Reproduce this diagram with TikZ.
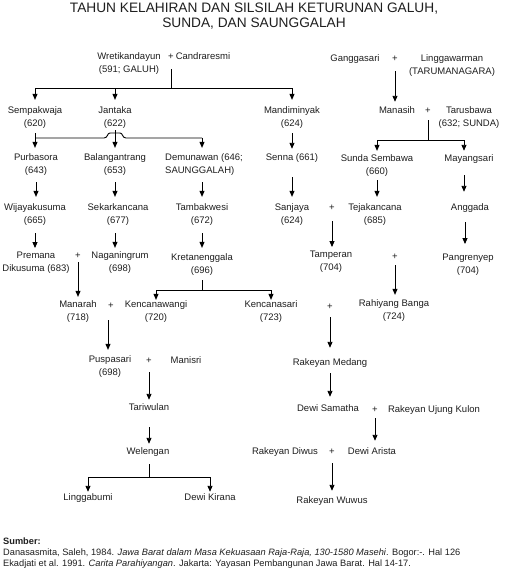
\documentclass[tikz,border=0pt]{standalone}
\usepackage{fontspec}
\setmainfont{Liberation Sans}
\usetikzlibrary{arrows.meta,calc}
\newcommand\vlink[4]{\draw[arr, shorten <=#3pt, shorten >=#4pt] (#1) -- (#1 |- #2.north);}
\begin{document}
\begin{tikzpicture}[x=1pt,y=-1pt,
  every node/.style={inner sep=0pt, font=\fontsize{9.5}{13}\selectfont, text=black!88},
  two/.style={align=center},
  one/.style={text height=7pt, text depth=2pt},
  ttl/.style={align=center, font=\fontsize{13.7}{15}\selectfont},
  foot/.style={anchor=west, text height=7pt, text depth=2pt, font=\fontsize{9.25}{11}\selectfont},
  ln/.style={line width=0.9pt, black},
  arr/.style={ln, -{Triangle[length=6pt,width=5pt]}}]
\useasboundingbox (0,0) rectangle (510,573);
\fill[white] (0,0) rectangle (510,573);

\node[ttl] (title) at (254,16) {TAHUN KELAHIRAN DAN SILSILAH KETURUNAN GALUH,\\SUNDA, DAN SAUNGGALAH};

% left family
\node[two] (wret) at (129,64) {Wretikandayun\\(591; GALUH)};
\node[one] (p0) at (171,57) {+};
\node[one] (candra) at (203,57) {Candraresmi};
\node[two] (sempak) at (35,117.5) {Sempakwaja\\(620)};
\node[two] (jantaka) at (115,117.5) {Jantaka\\(622)};
\node[two] (mandim) at (292,117.5) {Mandiminyak\\(624)};
\node[two] (purba) at (36,165) {Purbasora\\(643)};
\node[two] (balang) at (115,165) {Balangantrang\\(653)};
\node[two, align=left, anchor=west] (demu) at (165,165) {Demunawan (646;\\SAUNGGALAH)};
\node[one] (senna) at (292,158) {Senna (661)};
\node[two] (wijaya) at (35,215) {Wijayakusuma\\(665)};
\node[two] (sekar) at (118,215) {Sekarkancana\\(677)};
\node[two] (tambak) at (202,215) {Tambakwesi\\(672)};
\node[two] (sanjaya) at (292,215) {Sanjaya\\(624)};
\node[two] (premana) at (36,262.5) {Premana\\Dikusuma (683)};
\node[one] (p1) at (78,256) {+};
\node[two] (naga) at (120,262.5) {Naganingrum\\(698)};
\node[two] (kreta) at (202,264.5) {Kretanenggala\\(696)};
\node[two] (manarah) at (78,311.5) {Manarah\\(718)};
\node[one] (p2) at (111,306) {+};
\node[two] (kenwangi) at (156,312) {Kencanawangi\\(720)};
\node[two] (kensari) at (271,312) {Kencanasari\\(723)};
\node[two] (puspa) at (110,367) {Puspasari\\(698)};
\node[one] (p3) at (149,361) {+};
\node[one] (manisri) at (186,361) {Manisri};
\node[one] (tari) at (149,408) {Tariwulan};
\node[one] (welengan) at (148,452) {Welengan};
\node[one] (lingga) at (88,498) {Linggabumi};
\node[one] (kirana) at (210,498) {Dewi Kirana};

% right family
\node[one] (gangga) at (355,59) {Ganggasari};
\node[one] (p4) at (395,59) {+};
\node[two] (linggaw) at (452,66) {Linggawarman\\(TARUMANAGARA)};
\node[one] (manasih) at (397,111) {Manasih};
\node[one] (p5) at (428,111) {+};
\node[two] (tarus) at (469,117.5) {Tarusbawa\\(632; SUNDA)};
\node[two] (sundas) at (377,165.5) {Sunda Sembawa\\(660)};
\node[one] (mayang) at (469,159) {Mayangsari};
\node[one] (p6) at (332,208) {+};
\node[two] (teja) at (375,215) {Tejakancana\\(685)};
\node[one] (anggada) at (470,208) {Anggada};
\node[two] (tamperan) at (331,262) {Tamperan\\(704)};
\node[one] (p7) at (395,257) {+};
\node[two] (pangren) at (468,264.5) {Pangrenyep\\(704)};
\node[one] (p8) at (330,307) {+};
\node[two] (rahiyang) at (394,311) {Rahiyang Banga\\(724)};
\node[one] (medang) at (330,363) {Rakeyan Medang};
\node[one] (samatha) at (328,409) {Dewi Samatha};
\node[one] (p9) at (375,410) {+};
\node[one] (ujung) at (434,410) {Rakeyan Ujung Kulon};
\node[one] (diwus) at (285,452) {Rakeyan Diwus};
\node[one] (p10) at (332,452) {+};
\node[one] (arista) at (372,452) {Dewi Arista};
\node[one] (wuwus) at (332,501) {Rakeyan Wuwus};

% footer
\node[foot] (sumber) at (3,542) {\textbf{Sumber:}};
\node[foot] (ref1) at (3,553) {Danasasmita, Saleh, 1984. \textit{Jawa Barat dalam Masa Kekuasaan Raja-Raja, 130-1580 Masehi}. Bogor:-. Hal 126};
\node[foot] (ref2) at (3,564) {Ekadjati et al. 1991. \textit{Carita Parahiyangan}. Jakarta: Yayasan Pembangunan Jawa Barat. Hal 14-17.};

% ---- connectors ----
% Wretikandayun + Candraresmi
\coordinate (j0) at (p0 |- 0,88);
\draw[ln, shorten <=7.5pt] (p0.south) -- (j0);
\draw[ln] (sempak |- j0) -- (mandim |- j0);
\draw[arr, shorten >=6.5pt] (sempak |- j0) -- (sempak.north);
\draw[arr, shorten >=6.5pt] (jantaka |- j0) -- (jantaka.north);
\draw[arr, shorten >=6.5pt] (mandim |- j0) -- (mandim.north);
% Sempakwaja branch with hump over Jantaka line
\coordinate (j1) at (sempak |- 0,138);
\coordinate (j1c) at (jantaka |- 0,138);
\draw[arr, shorten <=4.5pt, shorten >=6pt] (sempak.south) -- (sempak.south |- purba.north);
\draw[ln] (j1) -- ($(j1c)+(-11,0)$) .. controls +(4,0) and +(-3,0) .. ($(j1c)+(-5,-5)$)
  -- ($(j1c)+(5,-5)$) .. controls +(3,0) and +(-4,0) .. ($(j1c)+(11,0)$) -- (j1 -| tambak);
\draw[arr, shorten >=6pt] (j1 -| tambak) -- (demu.north -| tambak);
\vlink{jantaka.south}{balang}{1.5}{6}
\vlink{mandim.south}{senna}{4.5}{4.5}
\vlink{purba.south}{wijaya}{6}{7}
\vlink{balang.south}{sekar}{6}{7}
\draw[arr, shorten <=6pt, shorten >=7pt] (demu.south -| tambak) -- (tambak.north);
\vlink{senna.south}{sanjaya}{14.5}{7}
\vlink{wijaya.south}{premana}{7}{3.5}
\coordinate (sx) at ([xshift=-3pt]sekar.south);
\vlink{sx}{naga}{7}{3.5}
\vlink{tambak.south}{kreta}{7}{5.5}
\vlink{p1.south}{manarah}{1.5}{3.5}
% Kretanenggala branch
\coordinate (j2) at (kreta |- 0,290);
\draw[ln, shorten <=4.5pt] (kreta.south) -- (j2);
\draw[ln] (kenwangi |- j2) -- (kensari |- j2);
\draw[arr, shorten >=1pt] (kenwangi |- j2) -- (kenwangi.north);
\draw[arr, shorten >=1pt] (kensari |- j2) -- (kensari.north);
\coordinate (p2x) at ([xshift=-3pt]p2.south);
\vlink{p2x}{puspa}{9.5}{6}
\vlink{p3.south}{tari}{6.5}{3.5}
\vlink{tari.south}{welengan}{14.5}{3.5}
% Welengan branch
\coordinate (j3) at (tari |- 0,477);
\draw[ln, shorten <=7.5pt] (welengan.south -| tari) -- (j3);
\draw[ln] (lingga |- j3) -- (kirana |- j3);
\draw[arr, shorten >=1.5pt] (lingga |- j3) -- (lingga.north);
\draw[arr, shorten >=1.5pt] (kirana |- j3) -- (kirana.north);
% right family
\vlink{p4.south}{manasih}{7.5}{4.5}
\coordinate (j4) at (p5 |- 0,140);
\coordinate (mx) at ([xshift=-5pt]mayang.north);
\draw[ln, shorten <=4.5pt] (p5.south) -- (j4);
\draw[ln] (sundas |- j4) -- (mx |- j4);
\draw[arr, shorten >=3.5pt] (sundas |- j4) -- (sundas.north);
\draw[arr, shorten >=3.5pt] (mx |- j4) -- (mx);
\vlink{sundas.south}{teja}{3.5}{7}
\coordinate (ms) at ([xshift=-5pt]mayang.south);
\vlink{ms}{anggada}{11.5}{11.5}
\vlink{p6.south}{tamperan}{8.5}{4}
\vlink{p7.south}{rahiyang}{3.5}{5}
\coordinate (as) at ([xshift=-5pt]anggada.south);
\vlink{as}{pangren}{9.5}{9.5}
\vlink{p8.south}{medang}{5.5}{10.5}
\vlink{medang.south}{samatha}{5.5}{7.5}
\vlink{p9.south}{arista}{3.5}{6.5}
\vlink{p10.south}{wuwus}{6.5}{5.5}
\end{tikzpicture}
\end{document}
